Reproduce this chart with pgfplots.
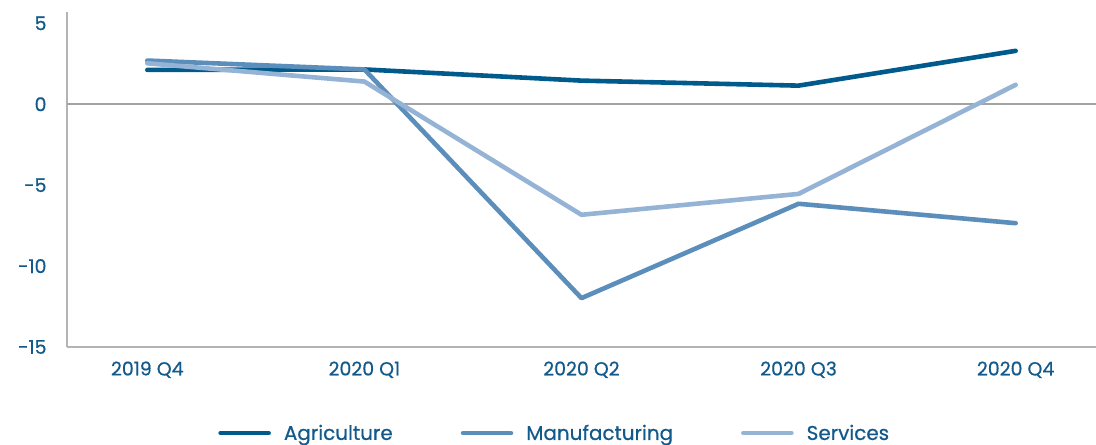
\documentclass[border=0pt]{standalone}
\usepackage{pgfplots}
\pgfplotsset{compat=1.18}
\usepackage{fontspec}
\setmainfont{Poppins}[FakeBold=0.6]
\definecolor{agri}{HTML}{005A8C}
\definecolor{manu}{HTML}{5B8EBB}
\definecolor{serv}{HTML}{95B3D5}
\definecolor{txt}{HTML}{115A8B}
\definecolor{axgray}{HTML}{B4B4B4}
\begin{document}
\begin{tikzpicture}
\useasboundingbox (-67bp,-98bp) rectangle (1029bp,347bp);
\begin{axis}[
  scale only axis,
  width=1029bp, height=335bp,
  xmin=-0.37, xmax=4.37,
  ymin=-15, ymax=5.7,
  xtick={0,1,2,3,4},
  xticklabels={2019 Q4,2020 Q1,2020 Q2,2020 Q3,2020 Q4},
  ytick={-15,-10,-5,0,5},
  axis x line*=bottom,
  axis y line*=left,
  axis line style={axgray, line width=1.2bp, -},
  major tick length=0pt,
  tick style={draw=none},
  ticklabel style={font=\fontsize{19}{21}\selectfont, text=txt},
  /pgf/number format/assume math mode=true,
  yticklabel style={xshift=-17bp},
  xticklabel style={yshift=-11bp},
  legend columns=3,
  legend style={draw=none, fill=none, at={(0.474,-0.257)}, anchor=center,
    font=\fontsize{20}{22}\selectfont, text=txt,
    /tikz/every even column/.append style={column sep=66bp}},
  legend image code/.code={\draw[#1, line cap=round] (0bp,0bp) -- (48bp,0bp);},
  clip=false,
]
\addplot[axgray!90!black, line width=1.6bp, forget plot] coordinates {(-0.37,0) (4.37,0)};
\addplot[agri, line width=4.6bp, line join=round, line cap=round] coordinates {(0,2.12) (1,2.15) (2,1.46) (3,1.15) (4,3.3)};
\addplot[manu, line width=4.6bp, line join=round, line cap=round] coordinates {(0,2.7) (1,2.15) (2,-11.98) (3,-6.15) (4,-7.35)};
\addplot[serv, line width=4.6bp, line join=round, line cap=round] coordinates {(0,2.53) (1,1.4) (2,-6.83) (3,-5.54) (4,1.2)};
\legend{\hspace{11bp}Agriculture,\hspace{11bp}Manufacturing,\hspace{11bp}Services}
\end{axis}
\end{tikzpicture}
\end{document}
